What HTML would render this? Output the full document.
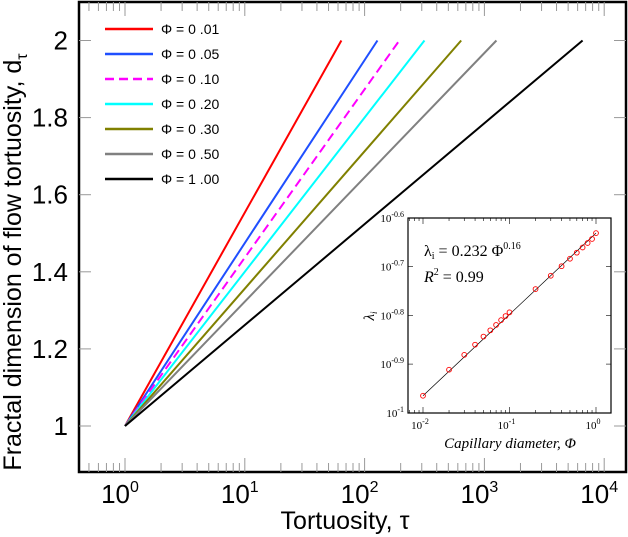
<!DOCTYPE html>
<html><head><meta charset="utf-8"><style>
html,body{margin:0;padding:0;background:#fff}
svg{display:block;font-family:"Liberation Sans",sans-serif}
</style></head><body>
<svg id="c" width="628" height="537" xmlns="http://www.w3.org/2000/svg"></svg>
<script>
// main chart data
const phiLabels = ["Φ = 0   .01","Φ = 0   .05","Φ = 0   .10","Φ = 0   .20","Φ = 0   .30","Φ = 0   .50","Φ = 1   .00"];
const tauEnd = [64, 128, 195, 316, 640, 1260, 6600];
const colors = ["#ff0000","#1f4fff","#ff00ff","#00ffff","#808000","#808080","#000000"];
const yTicks = [1, 1.2, 1.4, 1.6, 1.8, 2];
const xTickExp = [0, 1, 2, 3, 4];
// inset data
const phiVals = [0.01,0.02,0.03,0.04,0.05,0.06,0.07,0.08,0.09,0.1,0.2,0.3,0.4,0.5,0.6,0.7,0.8,0.9,1.0];
const lambdaVals = [0.1084,0.1226,0.1315,0.1380,0.1434,0.1477,0.1515,0.1550,0.1580,0.1608,0.1795,0.1912,0.2000,0.2072,0.2132,0.2185,0.2232,0.2275,0.2339];
const insetYExp = [-1, -0.9, -0.8, -0.7, -0.6];
const insetXExp = [-2, -1, 0];

const svg = document.getElementById('c');
const NS = 'http://www.w3.org/2000/svg';
function mk(tag, attrs, parent){const e=document.createElementNS(NS,tag);for(const k in attrs)e.setAttribute(k,attrs[k]);(parent||svg).appendChild(e);return e;}

const L=79,R=626,T=2,B=472;
const X = t => 125 + Math.log10(t)*119.8;
const Y = d => 426 - (d-1)*385.5;

const frame = mk('rect',{x:L,y:T,width:R-L,height:B-T,fill:'none',stroke:'#000','stroke-width':2.5});



for(let e=-1;e<=4;e++){
  for(let m=1;m<10;m++){
    const v=Math.pow(10,e)*m; const x=X(v);
    if(x<L+1||x>R-1) continue;
    const len = m===1?14:9;
    mk('line',{x1:x,y1:B,x2:x,y2:B-len,stroke:'#999','stroke-width':1});
    mk('line',{x1:x,y1:T,x2:x,y2:T+len,stroke:'#999','stroke-width':1});
  }
}
xTickExp.forEach(e=>{
  const g=mk('text',{x:X(Math.pow(10,e))-5,y:503,'font-size':26,'text-anchor':'middle',fill:'#000'});
  
  
  g.textContent='10';
  const s=mk('tspan',{dy:-11,'font-size':16},g); s.textContent=String(e);
});
yTicks.forEach(v=>{
  const y=Y(v);
  mk('line',{x1:L,y1:y,x2:L+12,y2:y,stroke:'#999'});
  mk('line',{x1:R,y1:y,x2:R-12,y2:y,stroke:'#999'});
  const t=mk('text',{x:68,y:y+9,'font-size':26,'text-anchor':'end',fill:'#000'});
  
  
  t.textContent=String(v);
});

tauEnd.forEach((te,i)=>{
  const ln=mk('line',{x1:X(1),y1:Y(1),x2:X(te),y2:Y(2),stroke:colors[i],'stroke-width':2});
  if(i===2) ln.setAttribute('stroke-dasharray','9,5');
  
  
  const ly=29+i*25;
  const ll=mk('line',{x1:105,y1:ly,x2:153,y2:ly,stroke:colors[i],'stroke-width':2.5});
  if(i===2) ll.setAttribute('stroke-dasharray','9,5');
  
  
  const lt=mk('text',{x:161,y:ly+5,'font-size':14,fill:'#000','xml:space':'preserve'});
  
  
  lt.textContent=phiLabels[i];
});

const xt=mk('text',{x:345,y:529,'font-size':25,'text-anchor':'middle',fill:'#000','xml:space':'preserve'});


xt.textContent='Tortuosity,   τ';
const yt=mk('text',{x:0,y:0,'font-size':25,'text-anchor':'middle',fill:'#000',transform:'translate(21,262) rotate(-90)','xml:space':'preserve'});


yt.textContent='Fractal dimension of flow tortuosity,   d';
const ys=mk('tspan',{dy:6,'font-size':16},yt); ys.textContent='τ';

// inset
const iL=408,iR=611,iT=218,iB=413;
const IX = p => 423 + (Math.log10(p)+2)*86.5;
const IY = l => 218 - (Math.log10(l)+0.6)*487;
const ibg=mk('rect',{x:iL,y:iT,width:iR-iL,height:iB-iT,fill:'#fff',stroke:'#000','stroke-width':1.2});


for(let e=-3;e<=0;e++){for(let m=1;m<10;m++){const x=IX(Math.pow(10,e)*m);if(x<iL+1||x>iR-1)continue;const len=m===1?6:3;
  mk('line',{x1:x,y1:iB,x2:x,y2:iB-len,stroke:'#000','stroke-width':0.6});
  mk('line',{x1:x,y1:iT,x2:x,y2:iT+len,stroke:'#000','stroke-width':0.6});}}
insetXExp.forEach(e=>{
  const t=mk('text',{x:IX(Math.pow(10,e))-3,y:429,'font-size':11,'text-anchor':'middle',fill:'#000','font-family':'Liberation Serif, serif'});
  
  
  t.textContent='10';
  const s=mk('tspan',{dy:-5,'font-size':8},t); s.textContent=String(e);
});
insetYExp.forEach(e=>{
  const y=IY(Math.pow(10,e));
  mk('line',{x1:iL,y1:y,x2:iL+5,y2:y,stroke:'#000','stroke-width':0.6});
  mk('line',{x1:iR,y1:y,x2:iR-5,y2:y,stroke:'#000','stroke-width':0.6});
  const t=mk('text',{x:404,y:y+4,'font-size':11,'text-anchor':'end',fill:'#000','font-family':'Liberation Serif, serif'});
  
  
  t.textContent='10';
  const s=mk('tspan',{dy:-5,'font-size':8},t); s.textContent=String(e);
});
const fit=mk('line',{x1:IX(phiVals[0]),y1:IY(lambdaVals[0]),x2:IX(phiVals[phiVals.length-1]),y2:IY(lambdaVals[lambdaVals.length-1]),stroke:'#000','stroke-width':0.7});


phiVals.forEach((p,i)=>{
  const c=mk('circle',{cx:IX(p),cy:IY(lambdaVals[i]),r:2.4,fill:'none',stroke:'#ff0000','stroke-width':0.9});
  
  
});
const eq=mk('text',{x:424,y:256,'font-size':16,fill:'#000','font-family':'Liberation Serif, serif'});


eq.innerHTML='λ<tspan font-size="10" dy="3">i</tspan><tspan dy="-3"> = 0.232 Φ</tspan><tspan font-size="10" dy="-7">0.16</tspan>';
const r2=mk('text',{x:424,y:282,'font-size':16,fill:'#000','font-family':'Liberation Serif, serif'});


r2.innerHTML='<tspan font-style="italic">R</tspan><tspan font-size="10" dy="-7">2</tspan><tspan dy="7"> = 0.99</tspan>';
const ixt=mk('text',{x:510,y:448,'font-size':15,'text-anchor':'middle',fill:'#000','font-style':'italic','font-family':'Liberation Serif, serif'});


ixt.textContent='Capillary diameter, Φ';
const iyt=mk('text',{x:0,y:0,'font-size':15,'text-anchor':'middle',fill:'#000','font-style':'italic','font-family':'Liberation Serif, serif',transform:'translate(374,316) rotate(-90)'});


iyt.innerHTML='λ<tspan font-size="9" dy="3">i</tspan>';
</script>
</body></html>
